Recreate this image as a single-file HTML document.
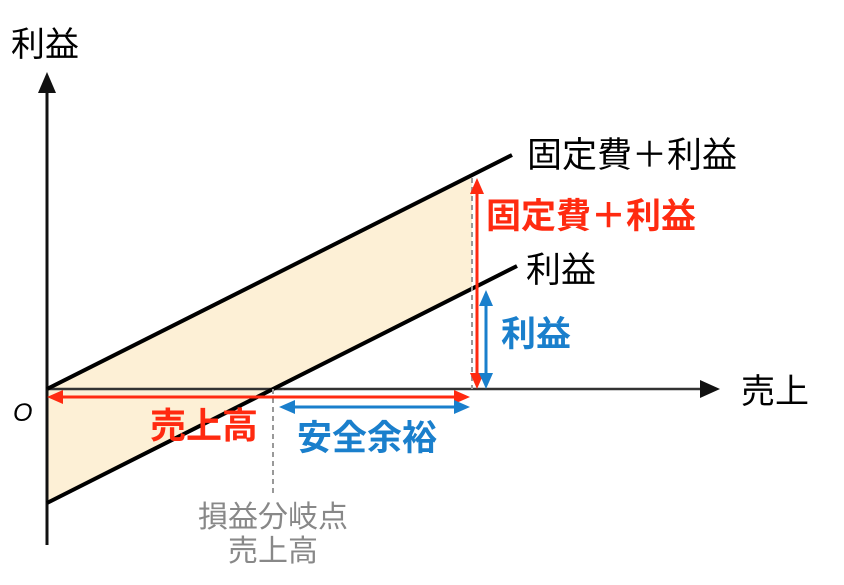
<!DOCTYPE html>
<html><head><meta charset="utf-8"><style>
body{margin:0;width:844px;height:580px;background:#fff;overflow:hidden}
svg text{font-family:"Liberation Sans","Noto Sans CJK JP",sans-serif}
</style></head><body>
<svg width="844" height="580" viewBox="0 0 844 580">
<polygon points="47,389 472,175 472,289 47,503" fill="#fdf0d6"/>
<line x1="47" y1="545" x2="47" y2="90" stroke="#111" stroke-width="3"/>
<polygon points="47,72 38,93 56,93" fill="#111"/>
<line x1="47" y1="389" x2="700" y2="389" stroke="#333" stroke-width="2.5"/>
<polygon points="720,389 700,380 700,398" fill="#111"/>
<line x1="47" y1="389" x2="512" y2="155" stroke="#000" stroke-width="4"/>
<line x1="47" y1="503" x2="517" y2="266" stroke="#000" stroke-width="4"/>
<line x1="472" y1="178" x2="472" y2="389" stroke="#999" stroke-width="2" stroke-dasharray="5,4"/>
<line x1="273" y1="389" x2="273" y2="495" stroke="#999" stroke-width="2" stroke-dasharray="5,4"/>
<line x1="477" y1="192" x2="477" y2="375" stroke="#ff2a10" stroke-width="3"/>
<polygon points="477,178 470,194 484,194" fill="#ff2a10"/>
<polygon points="477,389 470,373 484,373" fill="#ff2a10"/>
<line x1="486" y1="304" x2="486" y2="375" stroke="#1a7fcc" stroke-width="3"/>
<polygon points="486,290 479,306 493,306" fill="#1a7fcc"/>
<polygon points="486,389 479,373 493,373" fill="#1a7fcc"/>
<line x1="60" y1="397" x2="458" y2="397" stroke="#ff2a10" stroke-width="3"/>
<polygon points="47,397 63,390 63,404" fill="#ff2a10"/>
<polygon points="470,397 454,390 454,404" fill="#ff2a10"/>
<line x1="292" y1="407" x2="458" y2="407" stroke="#1a7fcc" stroke-width="3"/>
<polygon points="279,407 295,400 295,414" fill="#1a7fcc"/>
<polygon points="470,407 454,400 454,414" fill="#1a7fcc"/>
<text x="11" y="56" font-size="34" fill="#000">利益</text>
<text x="527" y="167" font-size="35" fill="#000">固定費＋利益</text>
<text x="486" y="228" font-size="35" font-weight="bold" fill="#ff2a10">固定費＋利益</text>
<text x="526" y="282" font-size="35" fill="#000">利益</text>
<text x="501" y="346" font-size="35" font-weight="bold" fill="#1a7fcc">利益</text>
<text x="741" y="403" font-size="34" fill="#000">売上</text>
<text x="13" y="421" font-size="25" font-style="italic" fill="#000">O</text>
<text x="150" y="438" font-size="36" font-weight="bold" fill="#ff2a10">売上高</text>
<text x="297" y="450" font-size="35" font-weight="bold" fill="#1a7fcc">安全余裕</text>
<text x="273" y="527" font-size="30" fill="#888" text-anchor="middle">損益分岐点</text>
<text x="273" y="561" font-size="30" fill="#888" text-anchor="middle">売上高</text>
</svg>
</body></html>
